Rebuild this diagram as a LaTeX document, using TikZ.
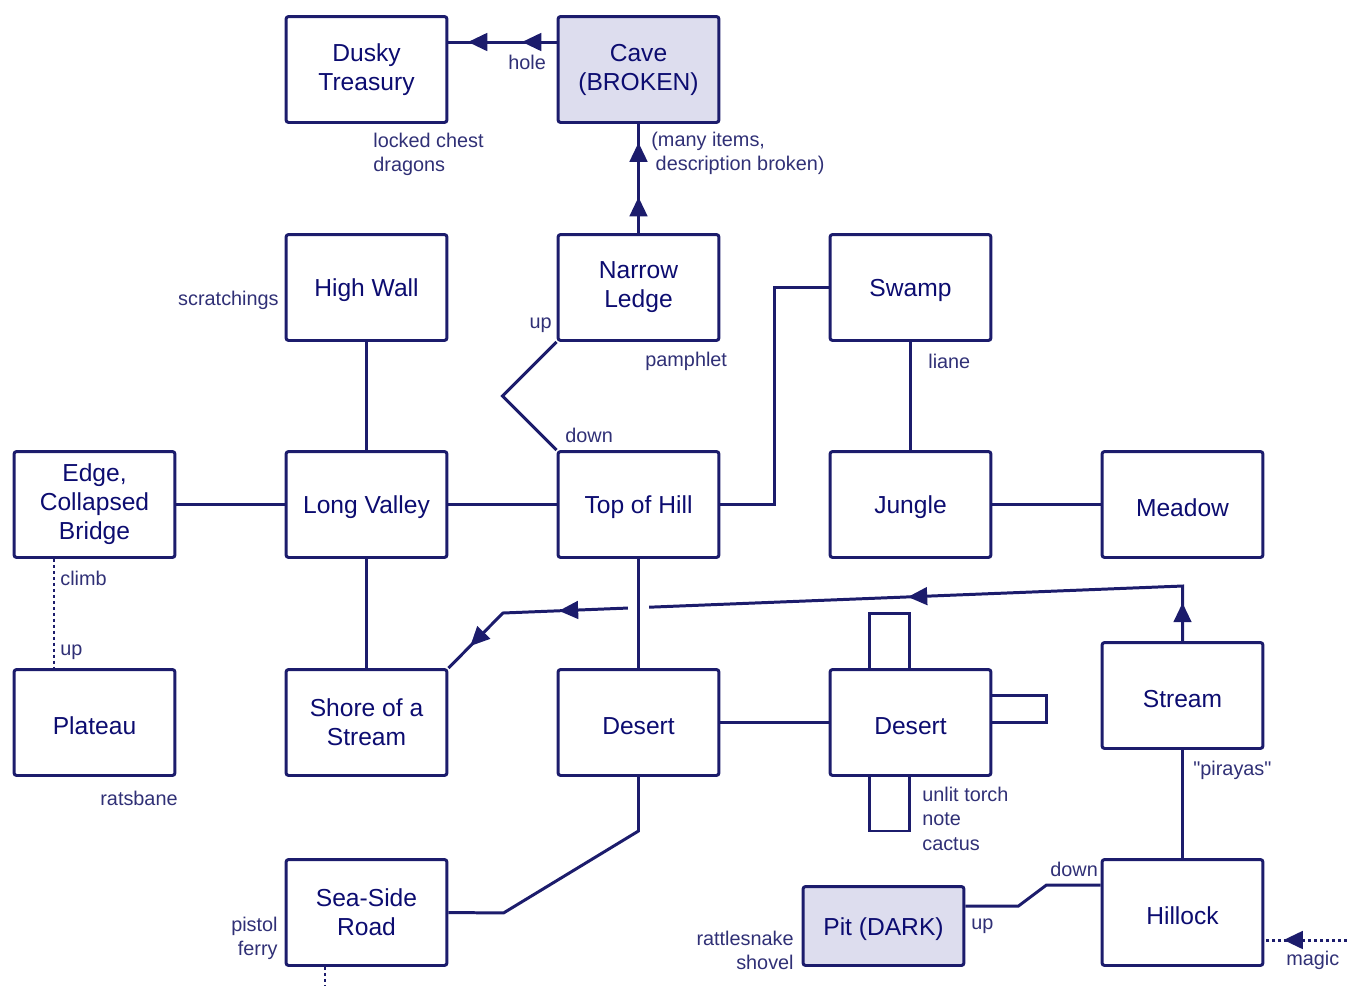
\documentclass[tikz,border=0pt]{standalone}
\usepackage{fontspec}
\setmainfont{Liberation Sans}[Ligatures=TeXOff]
\usetikzlibrary{arrows.meta,decorations.markings,calc}
\definecolor{roomline}{RGB}{28,28,108}
\definecolor{roomtext}{RGB}{12,12,112}
\definecolor{notetext}{RGB}{48,48,118}
\definecolor{roomfill}{RGB}{221,221,238}
\tikzset{
  room/.style={draw=roomline, line width=1.7pt, rounded corners=1.5pt, minimum width=3.22cm,
    minimum height=2.12cm, align=center, text=roomtext, font=\fontsize{14}{16.5}\selectfont,
    execute at begin node={\rule{0pt}{13.4pt}}},
  note/.style={text=notetext, font=\fontsize{11.3}{13.8}\selectfont, inner sep=0pt},
  link/.style={draw=roomline, line width=1.7pt},
  dotlink/.style={link, dash pattern=on 1.7pt off 1.7pt},
  headat/.style={postaction={decorate}, decoration={markings,
    mark=at position #1 with {\arrow{Triangle[length=11pt,width=10pt]}}}},
  twoheads/.style 2 args={postaction={decorate}, decoration={markings,
    mark=at position #1 with {\arrow{Triangle[length=11pt,width=10pt]}},
    mark=at position #2 with {\arrow{Triangle[length=11pt,width=10pt]}}}}
}

\begin{document}
\begin{tikzpicture}[x=0.02cm, y=-0.02cm]
    \useasboundingbox (0,0) rectangle (1347,985);
    \node[room] (1) at (366.5,69.5) {Dusky\\Treasury};
    \node[room, fill=roomfill] (2) at (638.5,69.5) {Cave\\(BROKEN)};
    \node[room] (3) at (366.5,287.5) {High Wall};
    \node[room] (4) at (638.5,287.5) {Narrow\\Ledge};
    \node[room] (5) at (910.5,287.5) {Swamp};
    \node[room] (6) at (94.5,504.5) {Edge,\\Collapsed\\Bridge};
    \node[room] (7) at (366.5,504.5) {Long Valley};
    \node[room] (8) at (638.5,504.5) {Top of Hill};
    \node[room] (9) at (910.5,504.5) {Jungle};
    \node[room] (10) at (1182.5,504.5) {Meadow};
    \node[room] (11) at (94.5,722.5) {Plateau};
    \node[room] (12) at (366.5,722.5) {Shore of a\\Stream};
    \node[room] (13) at (638.5,722.5) {Desert};
    \node[room] (14) at (910.5,722.5) {Desert};
    \node[room] (15) at (1182.5,695.5) {Stream};
    \node[room] (16) at (366.5,912.5) {Sea-Side\\Road};
    \node[room, fill=roomfill, minimum height=1.58cm] (17) at (883.5,926) {Pit (DARK)};
    \node[room] (18) at (1182.5,912.5) {Hillock};
    \coordinate (m) at (1347,940);
    \coordinate (s) at (325,985);

    \path[link]
    (6) edge (7)
    (7) edge (8)
    (9) edge (10)
    (3) edge (7)
    (7) edge (12)
    (5) edge (9)
    (13) edge (14)
    (18) edge (15);

    \draw[link, twoheads={0.32}{0.82}] ($(2.west)+(0,-27.5)$) -- ($(1.east)+(0,-27.5)$);
    \draw[link, twoheads={0.33}{0.83}] (4.north) -- (2.south);
    \draw[link] (4.south west) -- ++(-54,54) -- (8.north west);
    \draw[link] (8.east) -- ++(54,0) |- (5.west);
    \draw[link] (13.south) -- ++(0,54) -- ++(-135,82) -- (16.east);
    \draw[link, postaction={decorate}, decoration={markings,
      mark=at position 0.047 with {\arrow{Triangle[length=11pt,width=10pt]}},
      mark=at position 0.406 with {\arrow{Triangle[length=11pt,width=10pt]}},
      mark=at position 0.836 with {\arrow{Triangle[length=11pt,width=10pt]}},
      mark=at position 0.962 with {\arrow{Triangle[length=11pt,width=10pt]}}}]
      (15.north) -- ++(0,-55) -- (503,613) -- (12.north east);
    \draw[link, preaction={draw=white, line width=12pt}] (8.south) -- (13.north);
    \draw[link] ($(14.north west)+(41,0)$) -- ++(0,-55) -- ++(40,0) -- ++(0,55);
    \draw[link] ($(14.east)+(0,-27)$) -- ++(54,0) -- ++(0,27) -- (14.east);
    \draw[link] ($(14.south west)+(41,0)$) -- ++(0,54) -- ++(40,0) -- ++(0,-54);
    \draw[link] ($(17.east)+(0,-20)$) -- ++(53,0) -- ++(28,-21) -- ($(18.west)+(0,-27.5)$);
    \draw[dotlink] ($(6.south)+(-40.5,0)$) -- ($(11.north)+(-40.5,0)$);
    \draw[dotlink, headat=0.77] (m) -- (18.east |- m);
    \draw[dotlink] (16.south -| s) -- (s);

    \node[note, anchor=west] (n1) at (508,62) {hole};
    \node[note, anchor=north west, align=left] (n2) at (373,133) {locked chest\\dragons};
    \node[note, anchor=north west, align=left] (n3) at (651,132) {(many items,\\\hspace*{2.5pt}description broken)};
    \node[note, anchor=east] (n4) at (279,300) {scratchings};
    \node[note, anchor=east] (n5) at (552,325) {up};
    \node[note, anchor=west] (n6) at (645,361) {pamphlet};
    \node[note, anchor=west] (n7) at (565,435) {down};
    \node[note, anchor=west] (n8) at (928,361) {liane};
    \node[note, anchor=west] (n9) at (60,578) {climb};
    \node[note, anchor=west] (n10) at (60,652) {up};
    \node[note, anchor=west] (n11) at (100,798) {ratsbane};
    \node[note, anchor=north west, align=left] (n12) at (922,787) {unlit torch\\note\\cactus};
    \node[note, anchor=west] (n13) at (1193,770) {"pirayas"};
    \node[note, anchor=north east, align=right] (n14) at (278,917) {pistol\\ferry};
    \node[note, anchor=north east, align=right] (n15) at (794,931) {rattlesnake\\shovel};
    \node[note, anchor=west] (n16) at (971,926) {up};
    \node[note, anchor=west] (n17) at (1050,869) {down};
    \node[note, anchor=west] (n18) at (1286,960) {magic};
\end{tikzpicture}
\end{document}
